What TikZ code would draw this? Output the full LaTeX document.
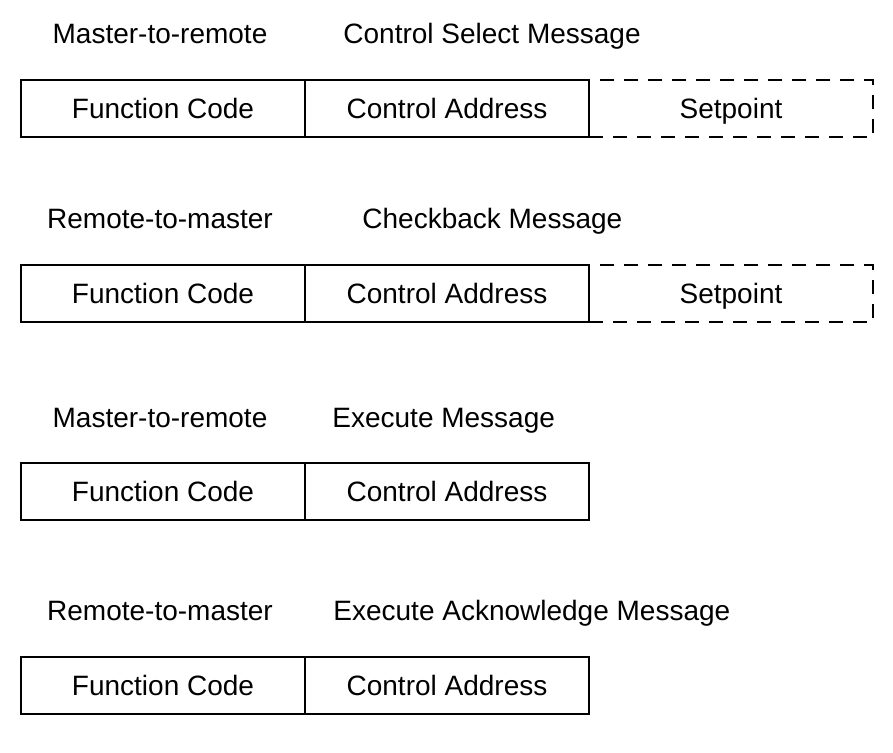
\documentclass[tikz,border=0pt]{standalone}
\usepackage{fontspec}
\setmainfont{Liberation Sans}
\begin{document}
\begin{tikzpicture}[x=0.5pt,y=-0.5pt,
  txt/.style={inner sep=0pt, text height=10pt, text depth=0pt, font=\fontsize{14}{16}\selectfont},
  cell/.style={txt, draw, line width=1pt, minimum width=142pt, minimum height=28.5pt},
  optcell/.style={cell, dash pattern=on 7pt off 5pt},
  hdr/.style={txt}]
\useasboundingbox (0,0) rectangle (893,752);
% Row 1
\node[hdr] (h1a) at (160,33) {Master-to-remote};
\node[hdr, anchor=west] (h1b) at (343,33) {Control Select Message};
\node[optcell] (sp1) at (731,108.5) {Setpoint};
\node[cell] (fc1) at (163,108.5) {Function Code};
\node[cell] (ca1) at (447,108.5) {Control Address};
% Row 2
\node[hdr] (h2a) at (160,218) {Remote-to-master};
\node[hdr, anchor=west] (h2b) at (362,218) {Checkback Message};
\node[optcell] (sp2) at (731,293.5) {Setpoint};
\node[cell] (fc2) at (163,293.5) {Function Code};
\node[cell] (ca2) at (447,293.5) {Control Address};
% Row 3
\node[hdr] (h3a) at (160,417) {Master-to-remote};
\node[hdr, anchor=west] (h3b) at (332,417) {Execute Message};
\node[cell] (fc3) at (163,491.5) {Function Code};
\node[cell] (ca3) at (447,491.5) {Control Address};
% Row 4
\node[hdr] (h4a) at (160,610) {Remote-to-master};
\node[hdr, anchor=west] (h4b) at (333,610) {Execute Acknowledge Message};
\node[cell] (fc4) at (163,685.5) {Function Code};
\node[cell] (ca4) at (447,685.5) {Control Address};
\end{tikzpicture}
\end{document}
